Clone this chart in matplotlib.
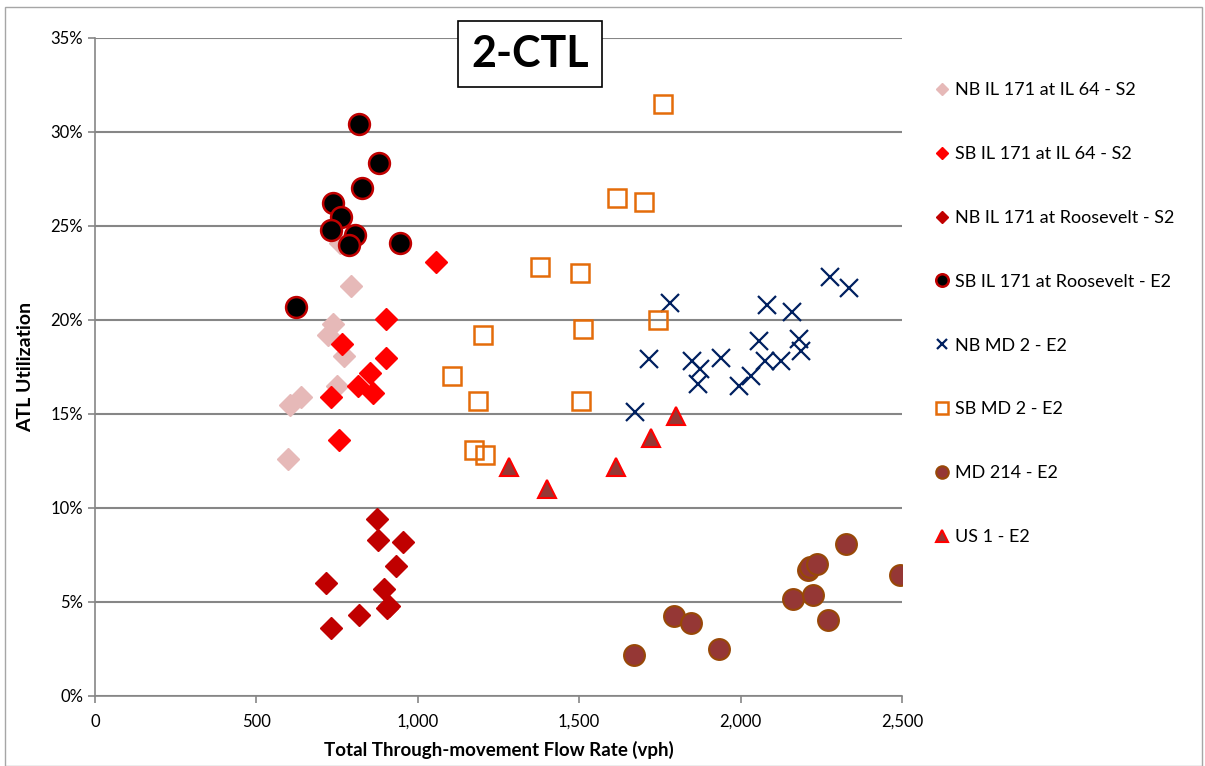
import matplotlib
matplotlib.use("Agg")
import matplotlib.pyplot as plt
from matplotlib.patches import Rectangle
from matplotlib.ticker import FuncFormatter, MultipleLocator

plt.rcParams['font.family'] = ['Lato', 'DejaVu Sans']

# flow rate (vph) and ATL utilization (%) per series
nb_il64_x = [598, 604, 638, 722, 737, 750, 771, 793, 759]
nb_il64_y = [12.6, 15.5, 15.9, 19.2, 19.8, 16.5, 18.1, 21.8, 24.1]

sb_il64_x = [1056, 901, 765, 901, 852, 815, 861, 731, 756]
sb_il64_y = [23.1, 20.05, 18.7, 18.0, 17.2, 16.5, 16.1, 15.9, 13.6]

nb_roos_x = [874, 877, 954, 932, 716, 895, 910, 905, 818, 731]
nb_roos_y = [9.4, 8.3, 8.2, 6.9, 6.0, 5.7, 4.8, 4.7, 4.3, 3.6]

sb_roos_x = [818, 880, 827, 737, 762, 731, 805, 787, 945, 623]
sb_roos_y = [30.4, 28.35, 27.0, 26.2, 25.5, 24.8, 24.5, 24.0, 24.1, 20.7]

nb_md2_x = [1781, 1717, 1674, 1850, 1874, 1867, 1938, 1995, 2031, 2057,
            2082, 2075, 2124, 2159, 2181, 2186, 2277, 2336]
nb_md2_y = [20.9, 17.9, 15.1, 17.8, 17.4, 16.6, 18.0, 16.5, 17.0, 18.9,
            20.8, 17.8, 17.8, 20.4, 19.0, 18.35, 22.3, 21.7]

sb_md2_x = [1379, 1501, 1203, 1511, 1745, 1107, 1185, 1507, 1174, 1208,
            1760, 1617, 1702]
sb_md2_y = [22.8, 22.5, 19.2, 19.5, 20.0, 17.0, 15.7, 15.7, 13.1, 12.8,
            31.5, 26.5, 26.3]

md214_x = [1671, 1795, 1846, 1934, 2161, 2225, 2270, 2210, 2215, 2236, 2325, 2494]
md214_y = [2.16, 4.24, 3.9, 2.48, 5.18, 5.39, 4.06, 6.7, 6.85, 7.0, 8.1, 6.42]

us1_x = [1284, 1401, 1614, 1721, 1800]
us1_y = [12.2, 11.0, 12.2, 13.7, 14.9]

fig = plt.figure(figsize=(12.05, 7.66), dpi=100)
ax = fig.add_axes([95 / 1205, 70 / 766, 807 / 1205, 658 / 766])

ax.plot(nb_il64_x, nb_il64_y, 'D', color='#E6B9B8', ms=11, mec='#E6B9B8',
        label='NB IL 171 at IL 64 - S2', zorder=3)
ax.plot(sb_il64_x, sb_il64_y, 'D', color='#FF0000', ms=11, mec='#FF0000',
        label='SB IL 171 at IL 64 - S2', zorder=3)
ax.plot(nb_roos_x, nb_roos_y, 'D', color='#C00000', ms=11, mec='#C00000',
        label='NB IL 171 at Roosevelt - S2', zorder=3)
ax.plot(sb_roos_x, sb_roos_y, 'o', color='black', ms=15, mec='#C00000', mew=1.8,
        label='SB IL 171 at Roosevelt - E2', zorder=3)
ax.plot(nb_md2_x, nb_md2_y, 'x', color='#002060', ms=13, mew=1.6,
        label='NB MD 2 - E2', zorder=3)
ax.plot(sb_md2_x, sb_md2_y, 's', mfc='none', mec='#E46C0A', ms=13.5, mew=1.8,
        label='SB MD 2 - E2', zorder=3)
ax.plot(md214_x, md214_y, 'o', color='#953735', ms=15, mec='#984807', mew=1.5,
        label='MD 214 - E2', zorder=3)
ax.plot(us1_x, us1_y, '^', color='#953735', ms=13.5, mec='#FF0000', mew=1.5,
        label='US 1 - E2', zorder=3)

ax.set_xlim(0, 2500)
ax.set_ylim(0, 35)
ax.xaxis.set_major_locator(MultipleLocator(500))
ax.yaxis.set_major_locator(MultipleLocator(5))
ax.xaxis.set_major_formatter(FuncFormatter(lambda v, p: f'{v:,.0f}'))
ax.yaxis.set_major_formatter(FuncFormatter(lambda v, p: f'{v:.0f}%'))
ax.grid(axis='y', color='#868686', lw=1.5)
ax.set_axisbelow(True)
for s in ['top', 'right']:
    ax.spines[s].set_visible(False)
for s in ['left', 'bottom']:
    ax.spines[s].set_color('#868686')
    ax.spines[s].set_linewidth(1.2)
ax.tick_params(axis='both', colors='#868686', labelcolor='black', labelsize=12,
               length=5, width=1.2)
ax.tick_params(axis='x', pad=8)

ax.set_xlabel('Total Through-movement Flow Rate (vph)', fontsize=13.5,
              fontweight='bold', labelpad=8)
ax.set_ylabel('ATL Utilization', fontsize=14, fontweight='bold', labelpad=12)

ax.text(0.539, 0.976, '2-CTL', transform=ax.transAxes, ha='center', va='center',
        fontsize=31, fontweight='bold', zorder=5,
        bbox=dict(boxstyle='square,pad=0.3', fc='white', ec='black', lw=1.2))

leg = fig.legend(loc='upper left', bbox_to_anchor=(924 / 1205, 1 - 75 / 766),
                 frameon=False, fontsize=13, labelspacing=2.65,
                 handletextpad=0.1, handlelength=1.2, markerscale=0.6,
                 borderaxespad=0)

fig.patches.append(Rectangle((5 / 1205, 0), 1197 / 1205, 759 / 766,
                             transform=fig.transFigure, fill=False,
                             ec='#A6A6A6', lw=1))

fig.savefig('out.png', dpi=100)
